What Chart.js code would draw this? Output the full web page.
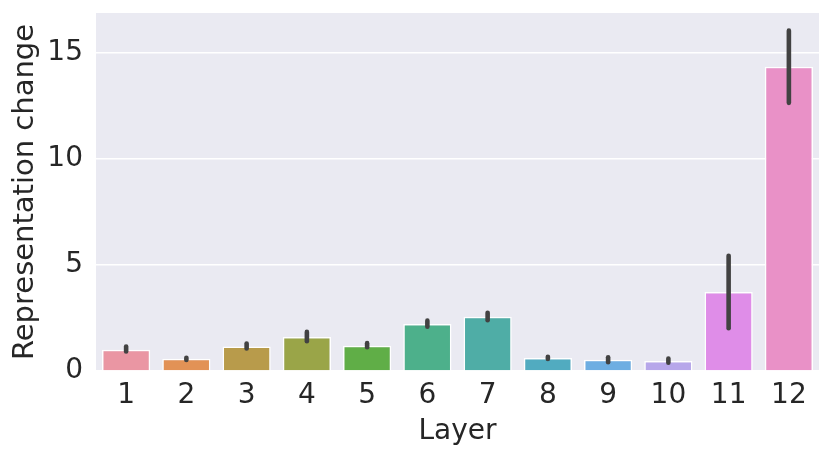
<!DOCTYPE html>
<html>
<head>
<meta charset="utf-8">
<script src="https://cdn.jsdelivr.net/npm/chart.js@4"></script>
<style>
  html, body { margin: 0; padding: 0; background: #ffffff; }
  #chart { display: block; }
</style>
</head>
<body>
<canvas id="chart" width="831" height="458"></canvas>
<script>
const layers = ["1","2","3","4","5","6","7","8","9","10","11","12"];
const meanChange = [1.00, 0.58, 1.15, 1.60, 1.19, 2.21, 2.55, 0.61, 0.53, 0.47, 3.72, 14.32];
const ciLow  = [0.92, 0.52, 1.06, 1.40, 1.12, 2.08, 2.39, 0.57, 0.41, 0.39, 2.01, 12.62];
const ciHigh = [1.15, 0.62, 1.29, 1.84, 1.31, 2.37, 2.74, 0.67, 0.65, 0.59, 5.42, 16.02];
const yTicks = [0, 5, 10, 15];

const barColors = [
  "#ea96a3", "#e29256", "#b89b4b", "#9aa548", "#60ae47", "#4db08b",
  "#4fada6", "#51abc0", "#6daee2", "#b7a7ea", "#df8de8", "#e991c7"
];

const FONT = "'DejaVu Sans', sans-serif";
const TEXT = "#262626";

// grey panel behind the plot, like seaborn darkgrid
const panelBg = {
  id: "panelBg",
  beforeDraw(chart) {
    const a = chart.chartArea;
    const ctx = chart.ctx;
    ctx.save();
    ctx.fillStyle = "#eaeaf2";
    ctx.fillRect(a.left, a.top, a.right - a.left, a.bottom - a.top);
    ctx.restore();
  }
};

// confidence interval lines on top of each bar
const errorBars = {
  id: "errorBars",
  afterDatasetsDraw(chart) {
    const x = chart.scales.x, y = chart.scales.y;
    const ctx = chart.ctx;
    ctx.save();
    ctx.strokeStyle = "#424242";
    ctx.lineWidth = 4.6;
    ctx.lineCap = "round";
    layers.forEach((l, i) => {
      const px = x.getPixelForValue(i);
      ctx.beginPath();
      ctx.moveTo(px, y.getPixelForValue(ciLow[i]));
      ctx.lineTo(px, y.getPixelForValue(ciHigh[i]));
      ctx.stroke();
    });
    ctx.restore();
  }
};

new Chart(document.getElementById("chart"), {
  type: "bar",
  data: {
    labels: layers,
    datasets: [{
      data: meanChange,
      backgroundColor: barColors,
      borderColor: "#ffffff",
      borderWidth: 1.5,
      categoryPercentage: 0.8,
      barPercentage: 1.0
    }]
  },
  options: {
    responsive: false,
    devicePixelRatio: 1,
    animation: false,
    layout: { padding: { top: 13, right: 12, left: 0, bottom: 0 } },
    plugins: {
      legend: { display: false },
      tooltip: { enabled: false }
    },
    scales: {
      x: {
        grid: { display: false, drawTicks: false },
        border: { display: false },
        ticks: { color: TEXT, font: { family: FONT, size: 28 }, padding: 8, maxRotation: 0 },
        title: {
          display: true, text: "Layer", color: TEXT,
          font: { family: FONT, size: 28 }, padding: { top: 0, bottom: 9 }
        },
        afterFit(s) {
          s.height = 87;
          s.paddingLeft = 0;
          s.paddingRight = 0;
        }
      },
      y: {
        min: 0,
        max: 16.85,
        grid: { color: "#ffffff", lineWidth: 1.5, drawTicks: false },
        border: { display: false },
        afterBuildTicks(s) { s.ticks = yTicks.map(v => ({ value: v })); },
        ticks: { color: TEXT, font: { family: FONT, size: 28 }, padding: 13 },
        title: {
          display: true, text: "Representation change", color: TEXT,
          font: { family: FONT, size: 29 }, padding: { top: 8, bottom: 0 }
        },
        afterFit(s) {
          s.width = 96;
          s.paddingTop = 0;
          s.paddingBottom = 0;
        }
      }
    }
  },
  plugins: [panelBg, errorBars]
});
</script>
</body>
</html>
